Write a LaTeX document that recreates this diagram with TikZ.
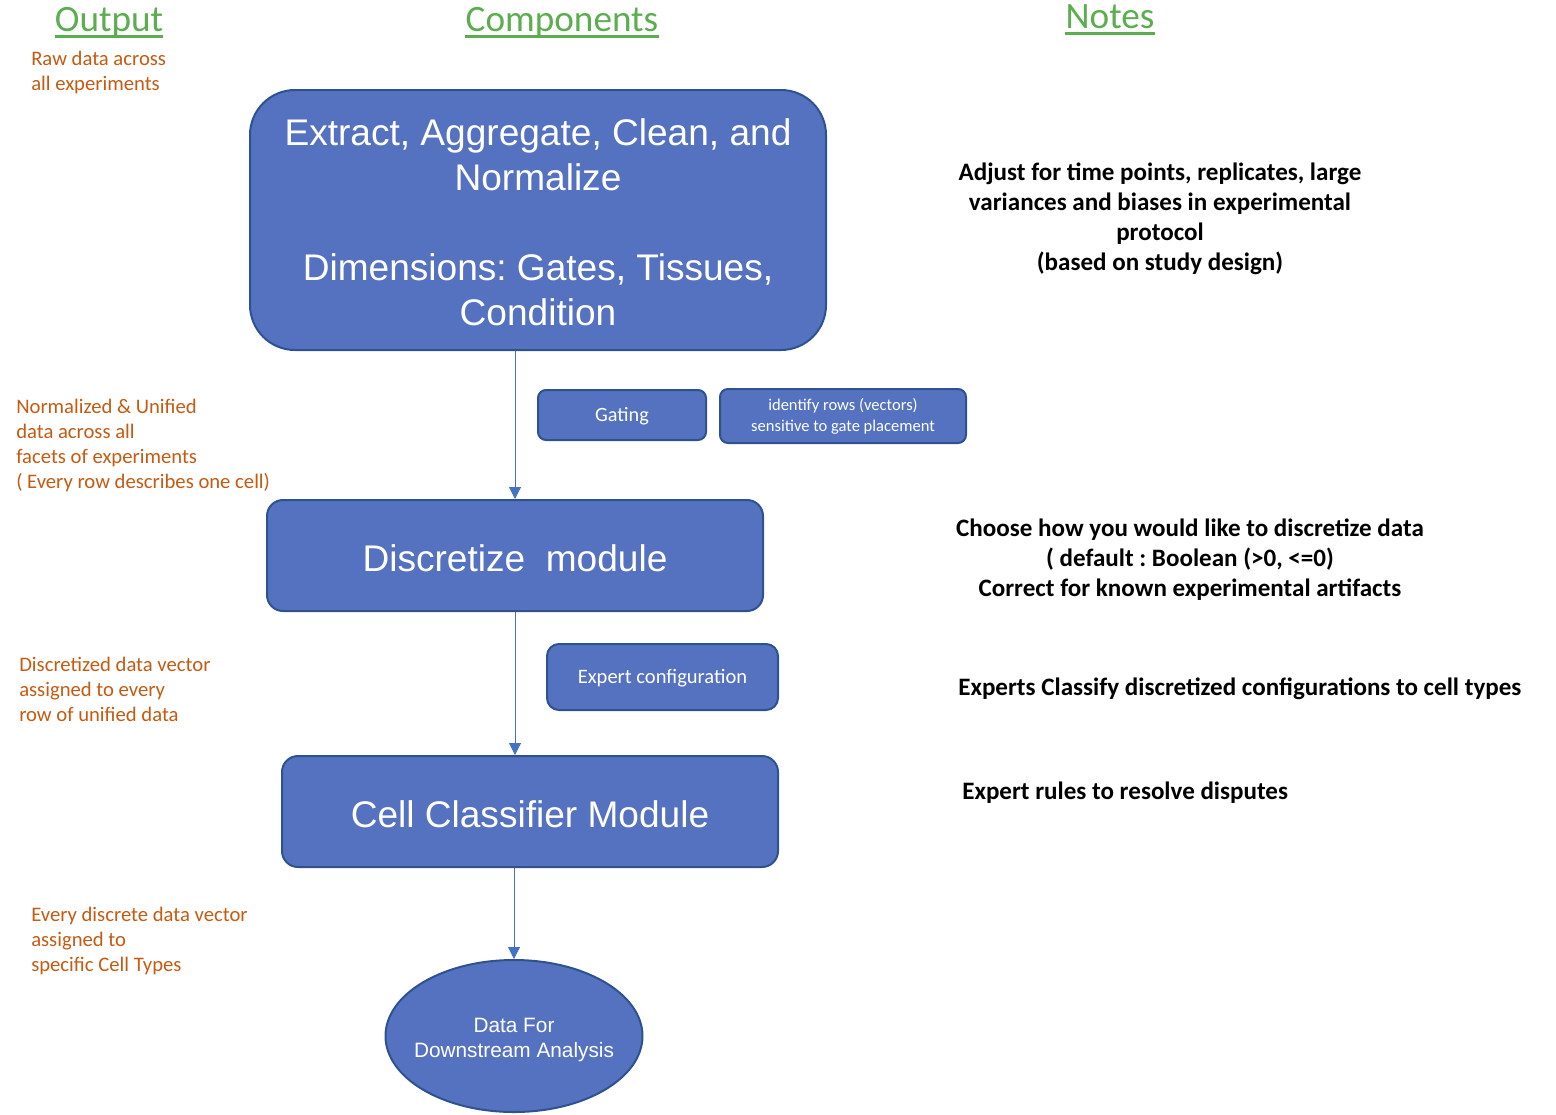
\documentclass[tikz,border=0pt]{standalone}
\usepackage{fontspec}
\setmainfont{Carlito}
\newfontfamily\arialf{Liberation Sans}
\usetikzlibrary{arrows.meta,shapes.geometric}
\definecolor{boxblue}{HTML}{5572C1}
\definecolor{boxedge}{HTML}{2F528F}
\definecolor{hdrgreen}{HTML}{5BAD4F}
\definecolor{outorange}{HTML}{C55A11}
\definecolor{arrowblue}{HTML}{4472C4}
\frenchspacing
\begin{document}
\frenchspacing
\begin{tikzpicture}[x=0.75pt,y=-0.75pt,
 box/.style={draw=boxedge,fill=boxblue,line width=1.5pt,text=white,align=center,inner sep=0pt},
 bigtxt/.style={font=\arialf\frenchspacing\fontsize{27.8}{33.75}\selectfont},
 bigline/.style={text height=23.25pt,text depth=0pt},
 smallline/.style={text height=1.15em,text depth=0.2em},
 hdr/.style={text=hdrgreen,font=\fontsize{27.9}{33}\selectfont,inner sep=0pt,anchor=base},
 uline/.style={draw=hdrgreen,line width=2pt},
 outtxt/.style={text=outorange,font=\fontsize{15.5}{18.75}\selectfont,align=left,inner sep=0pt,anchor=north west},
 note/.style={font=\bfseries\frenchspacing\fontsize{18.8}{22.5}\selectfont,align=center,inner sep=0pt},
 flow/.style={draw=arrowblue,line width=0.75pt,-{Triangle[width=9pt,length=9pt]}}]

\useasboundingbox (0,0) rectangle (1556,1114);

% headers
\node[hdr] (hout) at (109,31) {Output};
\node[hdr] (hcomp) at (562,31) {Components};
\node[hdr] (hnotes) at (1110,28) {Notes};
\foreach \h in {hout,hcomp,hnotes}{
  \draw[uline] ([yshift=-4pt]\h.base west) -- ([yshift=-4pt]\h.base east);
}

% output column
\node[outtxt] (o1) at (31,51) {Raw data across\\all experiments};
\node[outtxt] (o2) at (16,399) {Normalized \& Unified\\data across all\\facets of experiments\\( Every row describes one cell)};
\node[outtxt] (o3) at (19,657) {Discretized data vector\\assigned to every\\row of unified data};
\node[outtxt] (o4) at (31,907) {Every discrete data vector\\assigned to\\specific Cell Types};

% components
\node[box,minimum width=432pt,minimum height=195pt,rounded corners=33.75pt] (ext) at (538,220) {};
\node[text=white,align=center,inner sep=0pt,bigtxt] (exttxt) at (538,222)
  {Extract, Aggregate, Clean, and\\Normalize\\[33.75pt]Dimensions: Gates, Tissues,\\Condition};
\node[box,smallline,font=\fontsize{15.2}{18}\selectfont,minimum width=126pt,minimum height=37.5pt,rounded corners=6pt] (gate) at (622,415) {Gating};
\node[box,font=\fontsize{12.4}{15.75}\selectfont,minimum width=184.5pt,minimum height=40.5pt,rounded corners=6pt] (ident) at (843,416)
  {identify rows (vectors)\\sensitive to gate placement};
\node[box,bigtxt,bigline,minimum width=372pt,minimum height=83.25pt,rounded corners=12pt] (disc) at (515,555.5) {Discretize~~module};
\node[box,smallline,font=\fontsize{15.4}{18}\selectfont,minimum width=173.25pt,minimum height=49.5pt,rounded corners=9pt] (expc) at (662.5,677) {Expert configuration};
\node[box,bigtxt,bigline,minimum width=372pt,minimum height=83.25pt,rounded corners=12pt] (cls) at (530,811.5) {Cell Classifier Module};
\node[box,ellipse,minimum width=192.75pt,minimum height=114pt] (data) at (514,1036) {};
\node[text=white,align=center,inner sep=0pt,font=\arialf\fontsize{15.6}{18.75}\selectfont] (datatxt) at (514,1040)
  {Data For\\Downstream Analysis};

% connectors
\draw[flow] (ext.south -| disc.north) -- (disc.north);
\draw[flow] (disc.south) -- (disc.south |- cls.north);
\draw[flow] (cls.south -| data.north) -- (data.north);

% notes
\node[note] (n1) at (1160,219) {Adjust for time points, replicates, large\\variances and biases in experimental\\protocol\\(based on study design)};
\node[note] (n2) at (1190,560) {Choose how you would like to discretize data\\( default : Boolean (>0, <=0)\\Correct for known experimental artifacts};
\node[note,anchor=west] (n3) at (958,689) {Experts Classify discretized configurations to cell types};
\node[note,anchor=west] (n4) at (962,793) {Expert rules to resolve disputes};
\end{tikzpicture}
\end{document}
